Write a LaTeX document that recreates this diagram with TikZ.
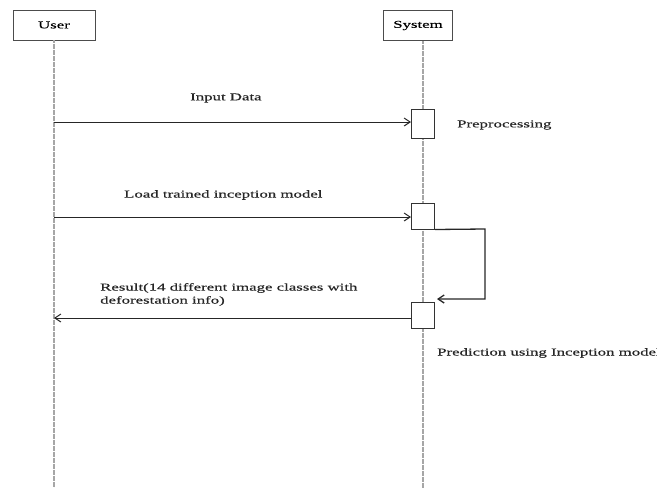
\documentclass[tikz,border=0pt]{standalone}
\usepackage{fontspec}
\setmainfont{Liberation Serif}[FakeStretch=1.6,FakeBold=0.5]
\usetikzlibrary{arrows.meta}
\begin{document}
\begin{tikzpicture}[x=1pt,y=-1pt,
  every node/.style={font=\fontsize{10.5}{13}\selectfont},
  actor/.style={draw=black!70,line width=0.8pt,minimum width=#1,minimum height=30pt,inner sep=0pt},
  life/.style={draw=black!35,line width=1.6pt,dash pattern=on 0.5pt off 0.7pt},
  act/.style={draw=black!80,fill=white,line width=1pt,minimum width=23pt,minimum height=#1,inner sep=0pt},
  msg/.style={draw=black!85,line width=1pt,-{Straight Barb[length=6pt,width=8pt]}},
  lbl/.style={inner sep=0pt,anchor=west,align=left,text=black!85}]
\useasboundingbox (0,0) rectangle (657,488);
\node[actor=82pt] (user) at (54,25) {User};
\node[actor=69pt] (sys) at (418,25.5) {System};
\coordinate (ub) at (54,488);
\coordinate (sb) at (423,488);
\draw[life] (54,40) -- (ub);
\draw[life] (423,41) -- (sb);
\node[act=29pt] (a1) at (423,123.5) {};
\node[act=26pt] (a2) at (423,216) {};
\node[act=26pt] (a3) at (423,315) {};
\coordinate (u1) at (54,122);
\coordinate (u2) at (54,217);
\coordinate (u3) at (54,318);
\draw[msg] (u1) -- (u1 -| a1.west);
\draw[msg] (u2) -- (u2 -| a2.west);
\draw[msg] (u3 -| a3.west) -- (u3);
\coordinate (lp) at (485,229);
\draw[msg,line width=1.3pt] (a2.south east) -- (lp) -- (485,299) -- (437,299);
\node[lbl] (t1) at (190,98) {Input Data};
\node[lbl] (t2) at (124,195) {Load trained inception model};
\node[lbl] (t3) at (100,294.5) {Result(14 different image classes with\\deforestation info)};
\node[lbl] (t4) at (457,125) {Preprocessing};
\node[lbl] (t5) at (437,353) {Prediction using Inception model};
\end{tikzpicture}
\end{document}
